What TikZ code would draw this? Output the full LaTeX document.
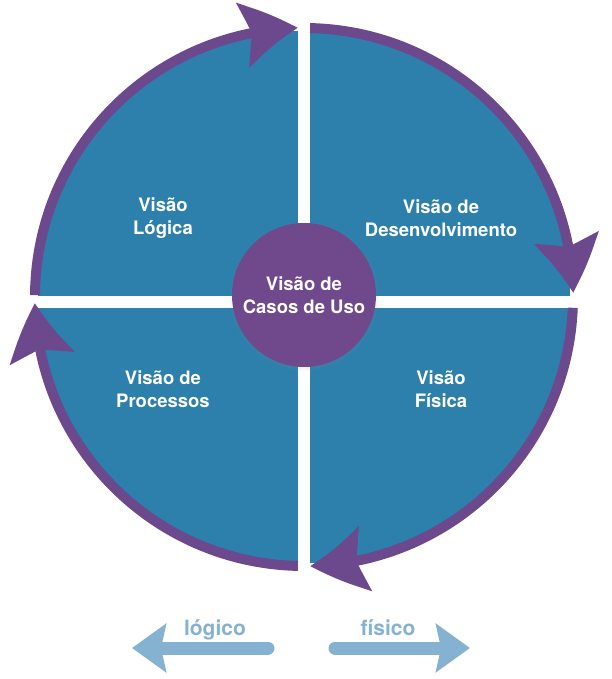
\documentclass[tikz,border=0pt]{standalone}
\usepackage{fontspec}
\setmainfont{TeX Gyre Heros}
\definecolor{quadblue}{RGB}{46, 128, 172}
\definecolor{cyclepurple}{RGB}{108, 73, 140}
\definecolor{hubpurple}{RGB}{112, 72, 140}
\definecolor{axisblue}{RGB}{133, 178, 208}
\usetikzlibrary{arrows.meta, bending, shadows, positioning}
\tikzset{
  quadlabel/.style={text=white, align=center, font=\fontsize{18.5}{23}\selectfont\bfseries},
  hubnode/.style={circle, fill=hubpurple, minimum size=144pt, inner sep=0pt,
    circular drop shadow={shadow scale=1.04, shadow xshift=0pt, shadow yshift=-1pt, opacity=0.35},
    text=white, align=center, font=\fontsize{18.5}{23}\selectfont\bfseries},
  cyclearrow/.style={draw=cyclepurple, line width=10pt, -{Stealth[length=56pt, width=64pt, inset=9pt, bend]}},
  axisarrow/.style={draw=axisblue, line width=13pt, line cap=round, -{Stealth[length=34pt, width=48pt, inset=5pt]}},
  axislabel/.style={text=axisblue, anchor=base, font=\fontsize{21}{25}\selectfont\bfseries},
}
\begin{document}
\begin{tikzpicture}[x=1pt, y=1pt]
\useasboundingbox (-304,-382) rectangle (307,297);
\fill[quadblue] (0,0) circle (266);
\fill[white] (-6,-290) rectangle (6,290);
\fill[white] (-290,-11) rectangle (290,1);

\draw[cyclearrow] (179.6:269) arc[start angle=179.6, end angle=91.3, radius=269];
\draw[cyclearrow] (88.7:269) arc[start angle=88.7, end angle=0.9, radius=269];
\draw[cyclearrow] (-2.3:269) arc[start angle=-2.3, end angle=-88.7, radius=269];
\draw[cyclearrow] (-91.3:269) arc[start angle=-91.3, end angle=-178.7, radius=269];

\node[hubnode] (casos) at (0,2) {Visão de\\Casos de Uso};
\node[quadlabel] (logica) at (-141,78.5) {Visão\\Lógica};
\node[quadlabel] (desenv) at (137,78.5) {Visão de\\Desenvolvimento};
\node[quadlabel] (processos) at (-141,-92.5) {Visão de\\Processos};
\node[quadlabel] (fisica) at (137,-92.5) {Visão\\Física};

\coordinate (logicotail) at (-36,-351);
\coordinate (logicotip) at (-172,-351);
\coordinate (fisicotail) at (31,-351);
\coordinate (fisicotip) at (166,-351);
\draw[axisarrow] (logicotail) -- (logicotip);
\draw[axisarrow] (fisicotail) -- (fisicotip);
\node[axislabel] (logico) at (-89,-338) {lógico};
\node[axislabel] (fisico) at (84,-338) {físico};
\end{tikzpicture}
\end{document}
